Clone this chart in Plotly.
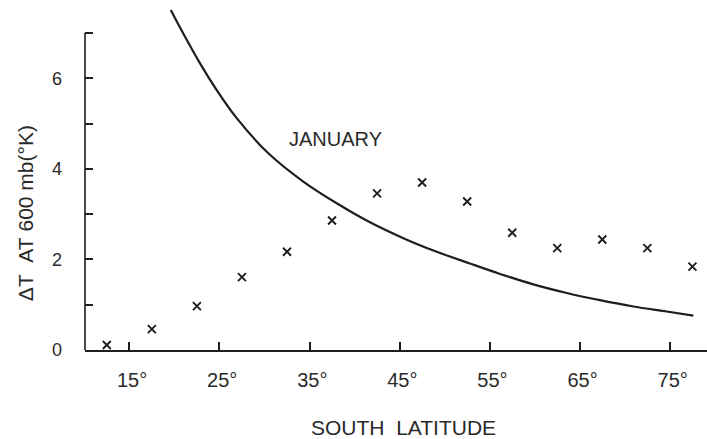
import plotly.graph_objects as go

# Observed points (x markers)
obs_lat = [12.5, 17.5, 22.5, 27.5, 32.5, 37.5, 42.5, 47.5, 52.5, 57.5, 62.5, 67.5, 72.5, 77.5]
obs_dt = [0.11, 0.46, 0.97, 1.61, 2.17, 2.86, 3.46, 3.70, 3.28, 2.59, 2.25, 2.44, 2.25, 1.84]

# January curve
jan_lat = [19.6, 20.99, 22.85, 24.70, 26.92, 30.4, 34.31, 38.02, 41.71, 45.41, 49.12,
           52.81, 56.15, 59.84, 63.55, 67.24, 70.94, 74.64, 77.6]
jan_dt = [7.51, 6.99, 6.33, 5.74, 5.12, 4.35, 3.72, 3.24, 2.82, 2.47, 2.17,
          1.91, 1.68, 1.45, 1.26, 1.10, 0.96, 0.85, 0.76]

x_tickvals = [15, 25, 35, 45, 55, 65, 75]
x_ticktext = ["\u00a015°", "\u00a025°", "\u00a035°", "\u00a045°", "\u00a055°", "\u00a065°", "\u00a075°"]
y_tickvals = [0, 1, 2, 3, 4, 5, 6, 7]
y_ticktext = ["0", "", "2", "", "4", "", "6", ""]

INK = "#1e1e1e"
TXT = "#2a2a2a"
FONT = "Liberation Sans, Arial, sans-serif"

fig = go.Figure()
fig.add_trace(go.Scatter(x=jan_lat, y=jan_dt, mode="lines",
                         line=dict(color=INK, width=2.2, shape="spline", smoothing=0.9),
                         showlegend=False))
fig.add_trace(go.Scatter(x=obs_lat, y=obs_dt, mode="markers",
                         marker=dict(symbol="x-thin", size=8,
                                     line=dict(color=INK, width=1.9)),
                         cliponaxis=False, showlegend=False))

# y axis line (stops at 7)
fig.add_shape(type="line", xref="paper", yref="y", x0=0, x1=0, y0=0, y1=7,
              line=dict(color=INK, width=1.6))

fig.add_annotation(x=37.83, y=4.65, xref="x", yref="y", text="JANUARY",
                   showarrow=False, font=dict(family=FONT, size=20, color=TXT))
fig.add_annotation(x=0.512, y=-0.222, xref="paper", yref="paper",
                   text="SOUTH\u00a0\u00a0LATITUDE", showarrow=False,
                   xanchor="center", yanchor="middle",
                   font=dict(family=FONT, size=21, color=TXT))
fig.add_annotation(x=0, y=0.391, xref="paper", yref="paper", xshift=-60,
                   text="ΔT\u00a0\u00a0AT\u00a0600\u00a0mb(°K)", textangle=-90,
                   showarrow=False, xanchor="center", yanchor="middle",
                   font=dict(family=FONT, size=21, color=TXT))

fig.update_layout(
    width=707, height=439,
    margin=dict(l=85, r=0, t=0, b=89, autoexpand=False),
    paper_bgcolor="white", plot_bgcolor="white",
    font=dict(family=FONT, color=TXT),
    xaxis=dict(range=[10.08, 79.12], showgrid=False, zeroline=False,
               automargin=False,
               showline=True, linecolor=INK, linewidth=1.6,
               tickmode="array", tickvals=x_tickvals, ticktext=x_ticktext,
               ticks="inside", ticklen=8, tickwidth=1.5, tickcolor=INK,
               tickfont=dict(size=20, family=FONT, color=TXT),
               ticklabelstandoff=11),
    yaxis=dict(range=[0, 7.73], showgrid=False, zeroline=False,
               automargin=False,
               showline=False,
               tickmode="array", tickvals=y_tickvals, ticktext=y_ticktext,
               ticks="inside", ticklen=8, tickwidth=1.5, tickcolor=INK,
               tickfont=dict(size=18, family=FONT, color=TXT),
               ticklabelstandoff=22),
)

fig.write_html("out.html", config={"displayModeBar": False},
               post_script="document.body.style.margin='0';document.body.style.padding='0';")
